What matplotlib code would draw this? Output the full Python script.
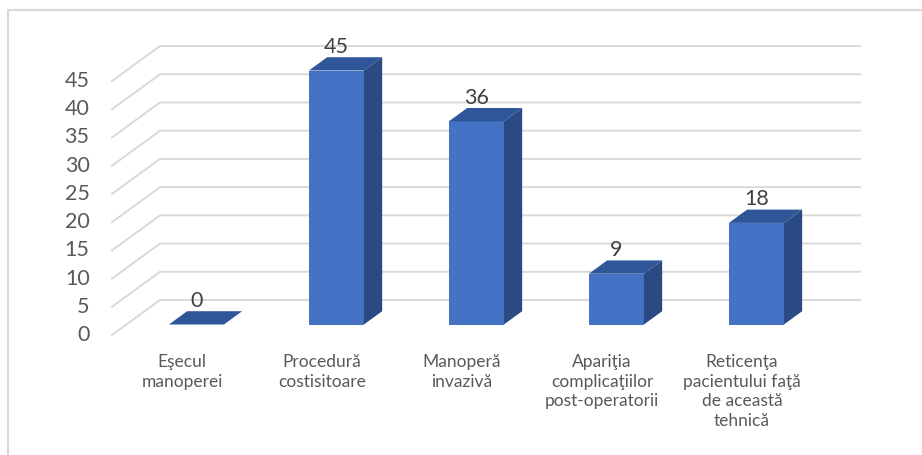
import matplotlib.pyplot as plt
from matplotlib.patches import Polygon

categories = ["Eşecul\nmanoperei", "Procedură\ncostisitoare", "Manoperă\ninvazivă",
              "Apariţia\ncomplicaţiilor\npost-operatorii",
              "Reticenţa\npacientului faţă\nde această\ntehnică"]
values = [0, 45, 36, 9, 18]
yticks = [0, 5, 10, 15, 20, 25, 30, 35, 40, 45]

FRONT = "#4472c4"
TOP = "#30569a"
SIDE = "#2a4a84"
GRID = "#d9d9d9"

# oblique projection: full depth of the floor/back wall in data units
DX, DY = 0.343, 6.2
D0, D1 = 0.30, 0.68   # bar front and back depth
W = 0.393             # bar width


def proj(x, v, d):
    return x + d * DX, v + d * DY


plt.rcParams['font.family'] = ['Lato', 'DejaVu Sans']
fig = plt.figure(figsize=(9.22, 4.55), dpi=100)
ax = fig.add_axes([0, 0, 1, 1])
ax.set_xlim(-182 / 140, (922 - 182) / 140)
ax.set_ylim((335 - 455) / 5.644, 335 / 5.644)
ax.axis('off')

# chart frame (top and left edges)
fig.add_artist(plt.Line2D([8 / 922, 8 / 922, 1], [0, 1 - 10 / 455, 1 - 10 / 455],
                          transform=fig.transFigure, color=GRID, lw=1.5))

n = len(values)
for t in yticks:
    x0, y0 = proj(-0.5, t, 0)
    x1, y1 = proj(-0.5, t, 1)
    x2, y2 = proj(n - 0.5, t, 1)
    ax.plot([x0, x1, x2], [y0, y1, y2], color=GRID, lw=1.4, zorder=1,
            solid_joinstyle='miter')
    ax.text(-0.66, t, str(t), ha='right', va='center', fontsize=15.5, color='#595959')

for i, v in enumerate(values):
    fx, fy = proj(i - W / 2, 0, D0)
    ax.bar(fx, v, width=W, bottom=fy, align='edge', color=FRONT, zorder=3)
    # top face
    a = proj(i - W / 2, v, D0)
    b = proj(i + W / 2, v, D0)
    c = proj(i + W / 2, v, D1)
    d = proj(i - W / 2, v, D1)
    ax.add_patch(Polygon([a, b, c, d], closed=True, color=TOP, zorder=3, lw=0))
    # right side face
    if v > 0:
        e = proj(i + W / 2, 0, D0)
        f = proj(i + W / 2, 0, D1)
        ax.add_patch(Polygon([e, b, c, f], closed=True, color=SIDE, zorder=3, lw=0))
    lx, ly = proj(i, v, D1)
    ax.text(proj(i, v, D0)[0], ly + 0.8, str(v), ha='center', va='baseline',
            fontsize=15.5, color='#404040', zorder=4)

for i, lab in enumerate(categories):
    ax.text(i, -3.3, lab, ha='center', va='top', fontsize=12.5,
            color='#595959', linespacing=1.3)

fig.savefig('out.png', dpi=100)
